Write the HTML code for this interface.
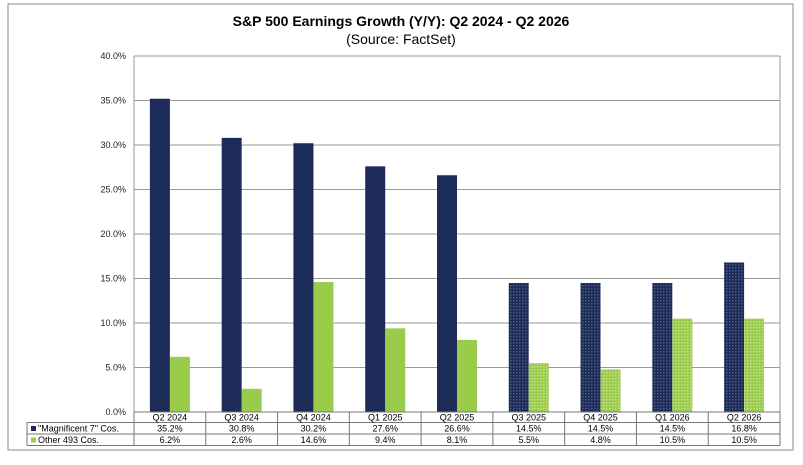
<!DOCTYPE html>
<html><head><meta charset="utf-8"><style>
body{margin:0;background:#fff;font-family:"Liberation Sans",sans-serif;}
</style></head><body>
<svg width="803" height="460" xmlns="http://www.w3.org/2000/svg" style="font-family:'Liberation Sans',sans-serif">
<defs>
<pattern id="pd" width="3" height="3" patternUnits="userSpaceOnUse"><rect width="3" height="3" fill="#1c2b57"/><rect width="1.5" height="1.5" fill="#4a5a85"/></pattern>
<pattern id="pg" width="3" height="3" patternUnits="userSpaceOnUse"><rect width="3" height="3" fill="#9bcb4a"/><rect width="1.5" height="1.5" fill="#c2e08a"/></pattern>
</defs>
<rect x="8" y="4" width="785" height="446" fill="none" stroke="#888" stroke-width="1"/>
<text x="401" y="26" text-anchor="middle" font-size="14" font-weight="bold">S&amp;P 500 Earnings Growth (Y/Y): Q2 2024 - Q2 2026</text>
<text x="401" y="44" text-anchor="middle" font-size="14">(Source: FactSet)</text>
<g id="grid"></g><g id="bars"></g><g id="table"></g>
</svg>
<script>
const categories=["Q2 2024","Q3 2024","Q4 2024","Q1 2025","Q2 2025","Q3 2025","Q4 2025","Q1 2026","Q2 2026"];
const mag7=[35.2,30.8,30.2,27.6,26.6,14.5,14.5,14.5,16.8];
const other=[6.2,2.6,14.6,9.4,8.1,5.5,4.8,10.5,10.5];
const estimated=[false,false,false,false,false,true,true,true,true];
const yTicks=[0,5,10,15,20,25,30,35,40];
const seriesNames=['"Magnificent 7" Cos.','Other 493 Cos.'];
const NS="http://www.w3.org/2000/svg";
const X0=134,X1=780,Y0=412,Y1=56,YMAX=40;
const cw=(X1-X0)/categories.length;
const y=v=>Y0-(v/YMAX)*(Y0-Y1);
const xc=i=>X0+cw*i;
function mk(t,a,p){const e=document.createElementNS(NS,t);for(const k in a)e.setAttribute(k,a[k]);p.appendChild(e);return e;}
const grid=document.getElementById('grid'),bars=document.getElementById('bars'),tbl=document.getElementById('table');
yTicks.forEach(v=>{
 if(v>0){const l=mk('line',{x1:X0,x2:X1,y1:y(v),y2:y(v),stroke:'#999','stroke-width':1},grid);
 
 }
 const t=mk('text',{x:126,y:y(v)+3,'text-anchor':'end','font-size':9,fill:'#222'},grid);t.textContent=v.toFixed(1)+'%';
 
 
});
mk('line',{x1:X0,x2:X0,y1:Y1,y2:Y0,stroke:'#999'},grid);
mk('line',{x1:X1,x2:X1,y1:Y1,y2:Y0,stroke:'#999'},grid);
categories.forEach((c,i)=>{
 const bw=20,cx=xc(i)+cw/2;
 const b1=mk('rect',{x:cx-bw,y:y(mag7[i]),width:bw,height:Y0-y(mag7[i]),fill:estimated[i]?'url(#pd)':'#1c2b57'},bars);
 
 
 const b2=mk('rect',{x:cx,y:y(other[i]),width:bw,height:Y0-y(other[i]),fill:estimated[i]?'url(#pg)':'#9bcb4a'},bars);
 
 
});
// table
const rows=[412,422.5,434,445.5];
const TL=27;
[0,1,2,3].forEach(r=>{mk('line',{x1:r==0?X0:TL,x2:X1,y1:rows[r],y2:rows[r],stroke:'#777'},tbl);});
mk('line',{x1:TL,x2:TL,y1:rows[1],y2:rows[3],stroke:'#777'},tbl);
for(let i=0;i<=categories.length;i++)mk('line',{x1:xc(i),x2:xc(i),y1:rows[0],y2:rows[3],stroke:'#777'},tbl);
categories.forEach((c,i)=>{
 const cx=xc(i)+cw/2;
 const t=mk('text',{x:cx,y:rows[0]+8.5,'text-anchor':'middle','font-size':9},tbl);t.textContent=c;
 
 
 const a=mk('text',{x:cx,y:rows[1]+9,'text-anchor':'middle','font-size':9},tbl);a.textContent=mag7[i].toFixed(1)+'%';
 
 
 const b=mk('text',{x:cx,y:rows[2]+9,'text-anchor':'middle','font-size':9},tbl);b.textContent=other[i].toFixed(1)+'%';
 
 
});
['#1c2b57','#9bcb4a'].forEach((col,k)=>{
 mk('rect',{x:31,y:rows[k+1]+3.5,width:5,height:5,fill:col},tbl);
 const t=mk('text',{x:38,y:rows[k+1]+9,'font-size':9},tbl);t.textContent=seriesNames[k];
 
 
});
</script>
</body></html>
